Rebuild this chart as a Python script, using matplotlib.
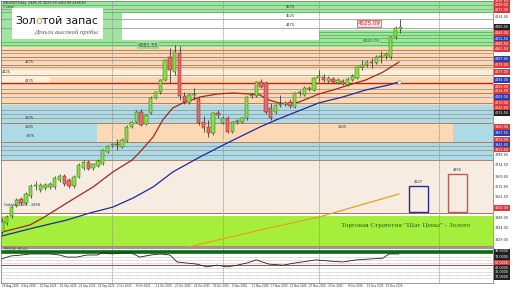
import numpy as np
import matplotlib.pyplot as plt
from matplotlib.patches import Rectangle

# XAUUSD daily candles
opens = [3372, 3421, 3459, 3513, 3551, 3529, 3567, 3621, 3599, 3610,
         3616, 3616, 3653, 3675, 3653, 3621, 3670, 3718, 3751, 3718,
         3729, 3740, 3805, 3843, 3848, 3832, 3864, 3940, 3967, 4021,
         3956, 4016, 4097, 4129, 4194, 4318, 4237, 4340, 4107, 4075,
         4113, 4091, 3967, 3940, 3907, 4016, 3961, 3988, 3913, 3967,
         3967, 3988, 4107, 4107, 4183, 4178, 4043, 4021, 4059, 4064,
         4075, 4048, 4124, 4113, 4145, 4140, 4205, 4210, 4188, 4199,
         4178, 4188, 4167, 4194, 4205, 4264, 4275, 4291, 4286, 4318,
         4324, 4318, 4426, 4470]
closes = [3426, 3453, 3507, 3545, 3529, 3578, 3621, 3626, 3626, 3626,
          3632, 3664, 3675, 3632, 3621, 3670, 3735, 3751, 3713, 3740,
          3756, 3816, 3837, 3848, 3843, 3870, 3940, 3967, 4021, 3951,
          4005, 4097, 4129, 4194, 4302, 4248, 4345, 4107, 4075, 4113,
          4118, 3961, 3934, 3907, 4016, 4005, 3988, 3913, 3967, 3972,
          3988, 4102, 4113, 4183, 4156, 4021, 3988, 4059, 4064, 4070,
          4053, 4124, 4129, 4151, 4151, 4205, 4215, 4194, 4205, 4183,
          4194, 4172, 4199, 4215, 4264, 4275, 4291, 4286, 4318, 4324,
          4334, 4426, 4475, 4480]
highs = [3448, 3464, 3518, 3556, 3562, 3589, 3632, 3648, 3637, 3637,
         3645, 3675, 3686, 3686, 3664, 3680, 3745, 3762, 3762, 3748,
         3765, 3822, 3845, 3856, 3875, 3878, 3948, 3975, 4030, 4035,
         4012, 4105, 4135, 4200, 4310, 4367, 4381.55, 4375, 4130, 4125,
         4151, 4102, 3999, 3978, 4021, 4032, 4000, 4000, 3975, 3985,
         3995, 4110, 4125, 4190, 4200, 4190, 4070, 4064, 4113, 4080,
         4090, 4130, 4140, 4160, 4160, 4210, 4248, 4225, 4215, 4212,
         4205, 4200, 4210, 4225, 4270, 4302, 4300, 4313, 4330, 4351,
         4345, 4434, 4485, 4525.09]
lows = [3361, 3410, 3448, 3505, 3520, 3520, 3556, 3599, 3590, 3600,
        3605, 3605, 3645, 3620, 3610, 3612, 3662, 3710, 3705, 3710,
        3722, 3735, 3798, 3830, 3816, 3825, 3858, 3932, 3960, 3945,
        3948, 4010, 4090, 4120, 4188, 4178, 4221, 4086, 4064, 4065,
        4086, 3950, 3913, 3886, 3895, 3988, 3955, 3905, 3905, 3955,
        3960, 3980, 4095, 4100, 4150, 4010, 3980, 4010, 4048, 4055,
        4045, 4040, 4110, 4105, 4135, 4132, 4183, 4185, 4180, 4175,
        4170, 4165, 4160, 4188, 4198, 4248, 4265, 4259, 4280, 4286,
        4305, 4310, 4415, 4448]

date_labels = ["28 Aug 2025", "4 Sep 2025", "10 Sep 2025", "16 Sep 2025", "22 Sep 2025",
               "26 Sep 2025", "2 Oct 2025", "8 Oct 2025", "14 Oct 2025", "20 Oct 2025",
               "24 Oct 2025", "30 Oct 2025", "5 Nov 2025", "11 Nov 2025", "17 Nov 2025",
               "21 Nov 2025", "27 Nov 2025", "3 Dec 2025", "9 Dec 2025", "15 Dec 2025",
               "19 Dec 2025"]

# moving averages (sampled at some bars)
red_ma_x = [0, 5.8, 8.5, 13.5, 19, 23.1, 27.1, 28.75, 31.5, 33.5, 35.6, 37.7, 41.25, 44.8,
            48.1, 51.7, 53.75, 55.6, 57.7, 59.8, 61.9, 64, 66, 69, 72.3, 75.8, 79.4, 82.7]
red_ma = [3372, 3410, 3448, 3529, 3616, 3697, 3761, 3805, 3886, 3978, 4043, 4070, 4102, 4118,
          4124, 4118, 4113, 4086, 4070, 4064, 4075, 4097, 4118, 4140, 4167, 4194, 4237, 4291]
blue_ma_x = [0, 6.5, 13.5, 18.3, 23.1, 27.3, 31.5, 35.6, 41.25, 46.9, 53.75, 57.1, 61.25,
             66, 71, 75.8, 80.6, 82.7]
blue_ma = [3351, 3394, 3437, 3475, 3507, 3556, 3616, 3697, 3778, 3853, 3940, 3978, 4021,
           4070, 4102, 4140, 4167, 4183]
orange_x = [37.5, 52.9, 66, 82.7]
orange_ma = [3283, 3378, 3453, 3578]

# oscillator in the lower window
osc_x = [0, 1.7, 4, 6, 8, 10, 12, 13.5, 15.6, 17.7, 19.8, 21, 23, 25, 27, 28.7, 31, 33, 35,
         36.5, 38.5, 40.6, 42.7, 44.8, 46.9, 49, 51, 53, 55.6, 58.5, 61, 65.4, 68, 71, 73.8,
         79.4, 80.6, 82.7]
osc_v = [69, 77, 80, 83, 83, 83, 80, 74, 74, 80, 80, 86, 83, 86, 86, 74, 80, 83, 80,
         60, 57, 54, 46, 51, 46, 51, 57, 66, 54, 51, 57, 66, 63, 60, 66,
         71, 83, 83]

# horizontal levels with their captions
level_vals = [4575, 4525, 4475, 4275, 4225, 4175, 3975, 3925, 3875, 3925]
level_text = ["4575", "4525", "4475", "4275", "4225", "4175", "3975", "3925", "3875", "3925"]
level_at = [60, 60, 60, 5.8, 1, 5.8, 5.8, 5.8, 5.8, 71]

right_prices = [4615.5, 4599, 4572, 4534.4, 4480.4, 4448, 4415.5, 4388.5, 4361.5, 4307.4,
                4275, 4237, 4194, 4156, 4134.5, 4102, 4070, 4042.6, 4015.5, 3940, 3907.5,
                3870, 3842.6, 3815.6, 3788.6, 3734.5, 3669.6, 3615.6, 3561.5, 3502, 3448,
                3394, 3329]
right_kind = ["r", "r", "r", "w", "k", "r", "b", "r", "r", "b",
              "r", "r", "b", "r", "r", "b", "r", "r", "k", "r", "b",
              "r", "b", "r", "w", "w", "w", "w", "w", "r", "w",
              "w", "w"]

box_labels = ["4127", "4355"]

W, H = 516, 289
fig = plt.figure(figsize=(W / 100, H / 100), dpi=100)
fig.patch.set_facecolor("white")


def box(x0, y0, x1, y1):
    return [x0 / W, 1 - y1 / H, (x1 - x0) / W, (y1 - y0) / H]


ax = fig.add_axes(box(1, 1, 493, 247))
axo = fig.add_axes(box(1, 248, 493, 283))
x0, x1 = -0.2, 102.3
ax.set_xlim(x0, x1)
ax.set_ylim(3291.3, 4620.9)
axo.set_xlim(x0, x1)
axo.set_ylim(0, 100)

# background zones
zones = [
    (4372, 4621, "#9fe49f", 0, 1),
    (4464, 4556, "white", 0.246, 1),
    (4410, 4464, "white", 0.246, 0.647),
    (4059, 4372, "#fcd8b4", 0, 1),
    (4210, 4248, "#fdf0d6", 0, 1),
    (4178, 4248, "#fdf0d6", 0, 0.1),
    (3961.5, 4059, "#acdbe6", 0, 1),
    (3859, 3961.5, "#fcd8b4", 0, 1),
    (3859, 3961.5, "#acdbe6", 0, 0.195),
    (3859, 3961.5, "#acdbe6", 0.919, 1),
    (3761.5, 3859, "#acdbe6", 0, 1),
    (3470, 3761.5, "#f7ece1", 0, 1),
    (3296, 3459, "#a6ee3c", 0, 1),
]
for lo, hi, c, a, b in zones:
    ax.axhspan(lo, hi, xmin=a, xmax=b, color=c, lw=0, zorder=0)

green_lines = [4600, 4561, 4399, 4383]
for v in green_lines:
    ax.axhline(v, color="#58b858", lw=0.6, zorder=1)
ax.axhline(4453, xmin=0.647, color="#58b858", lw=0.6, zorder=1)
ax.axhline(4437, xmin=0.647, color="#58b858", lw=0.6, zorder=1)
ax.axhline(4421, xmin=0.647, color="#58b858", lw=0.6, zorder=1)
gray_lines = [4575, 4525, 4475, 4340, 4302, 4264, 4221, 4145, 4102, 4032, 4010,
              3988, 3837, 3816, 3788, 3475]
for v in gray_lines:
    ax.axhline(v, color="#9a9a9a", lw=0.6, zorder=1)
brown_lines = [4356, 4318, 4275, 4124, 4070, 3961.5, 3859, 3761.5, 3475, 3296]
for v in brown_lines:
    ax.axhline(v, color="#b0704a", lw=0.6, zorder=1)
ax.axhline(4175, color="#b02818", lw=1.0, zorder=1)

# month separators
for v in [23, 46, 66, 91]:
    ax.axvline(v, color="#8c8c8c", lw=0.5, ls=(0, (2, 1)), zorder=1)
    axo.axvline(v, color="#8c8c8c", lw=0.5, ls=(0, (2, 1)), zorder=1)

# candles
idx = np.arange(len(opens))
for i in idx:
    o, c, h, l = opens[i], closes[i], highs[i], lows[i]
    up = c >= o
    ax.vlines(i, l, h, color="#303030", lw=0.55, zorder=3)
    lo_b, hi_b = min(o, c), max(o, c)
    if hi_b - lo_b < 3:
        hi_b = lo_b + 3
    ax.add_patch(Rectangle((i - 0.36, lo_b), 0.72, hi_b - lo_b,
                           facecolor="#86e040" if up else "#e86a6a",
                           edgecolor="#2f6e1a" if up else "#8a2020",
                           lw=0.35, zorder=4))

ax.plot(orange_x, orange_ma, color="#e8a020", lw=0.9, zorder=2)
ax.plot(blue_ma_x, blue_ma, color="#1e2aa0", lw=0.9, zorder=2)
ax.plot(red_ma_x, red_ma, color="#a0281e", lw=0.9, zorder=2)
ax.plot(blue_ma_x[-1], blue_ma[-1], "o", mfc="white", mec="#909090", ms=2.5, mew=0.5, zorder=5)

for v, t, at in zip(level_vals, level_text, level_at):
    ax.text(at, v + 3, t, fontsize=2.6, ha="center", va="bottom", color="#303030", zorder=6)

# price tags
ax.text(30.5, 4381.55, "4381.55", fontsize=3.6, ha="center", va="center", color="#205020",
        bbox=dict(boxstyle="square,pad=0.15", fc="#98d898", ec="none"), zorder=6)
ax.text(76.5, 4500, "4525.09", fontsize=4, ha="center", va="center", color="#c03030",
        bbox=dict(boxstyle="square,pad=0.15", fc="#f6e0e0", ec="#c05050", lw=0.5), zorder=6)
ax.text(77, 4405, "4432.79", fontsize=3, ha="center", va="center", color="#2a7a2a",
        bbox=dict(boxstyle="square,pad=0.1", fc="#90dc90", ec="none"), zorder=6)
ax.text(0.5, 3505, "Golden 2825 - 3498", fontsize=2.6, ha="left", va="bottom", color="#303030", zorder=6)

# target boxes
ax.add_patch(Rectangle((84.8, 3480), 3.95, 141, fill=False, ec="#2a2a9a", lw=1.0, zorder=5))
ax.add_patch(Rectangle((92.9, 3480), 3.95, 206, fill=False, ec="#c05a50", lw=1.0, zorder=5))
ax.text(86.8, 3630, box_labels[0], fontsize=2.6, ha="center", va="bottom", color="#303030")
ax.text(94.9, 3695, box_labels[1], fontsize=2.6, ha="center", va="bottom", color="#303030")

ax.text(84.1, 3410, "Торговая Стратегия \"Шаг Цены\" - Золото", fontsize=5.2,
        family="Liberation Serif", ha="center", va="center", color="#1d6b1d", zorder=6)

# right scale tags
tag_col = {"r": ("#d83a3a", "white"), "b": ("#2a3ab0", "white"),
           "k": ("#202020", "white"), "w": ("white", "#303030")}
for v, k in zip(right_prices, right_kind):
    fc, tc = tag_col[k]
    ax.text(1.004, v, "%.2f" % v, transform=ax.get_yaxis_transform(), fontsize=2.4,
            ha="left", va="center", color=tc, clip_on=False,
            bbox=dict(boxstyle="square,pad=0.2", fc=fc, ec="none"))

# oscillator window
axo.set_facecolor("white")
for v in [74, 66, 57, 43, 31, 23, 14]:
    axo.axhline(v, color="#909090", lw=0.4, ls=(0, (1, 1)))
axo.axhline(51, color="#c04040", lw=0.7)
axo.axhline(90, color="#0a6a10", lw=2.6)
axo.plot(osc_x, osc_v, color="#202020", lw=0.6)
axo.text(0.5, 97, "RSI(14) 82.61", fontsize=2.4, ha="left", va="center", color="#303030")
for v, k in [(90, "k"), (74, "k"), (57, "r"), (43, "k"), (31, "k"), (17, "k")]:
    fc, tc = tag_col[k]
    axo.text(1.004, v, "%.4f" % v, transform=axo.get_yaxis_transform(), fontsize=2.4,
             ha="left", va="center", color=tc, clip_on=False,
             bbox=dict(boxstyle="square,pad=0.2", fc=fc, ec="none"))

for a in (ax, axo):
    a.set_xticks([])
    a.set_yticks([])
    for s in a.spines.values():
        s.set_color("#707070")
        s.set_linewidth(0.5)

for j, t in enumerate(date_labels):
    fig.text((2 + 4.8 * 4 * j) / W, 1 - 286 / H, t, fontsize=1.9, ha="left", va="center",
             color="#303030")

# header
fig.text(3 / W, 1 - 3 / H, "XAUUSD,Daily  4486.21 4525.09 4452.68 4498.61", fontsize=2.3,
         ha="left", va="center", color="#202020")
fig.text(3 / W, 1 - 7 / H, "1 zone", fontsize=2.3, ha="left", va="center", color="#202020")

# logo
fig.patches.append(Rectangle((12 / W, 1 - 39 / H), 91 / W, 31 / H, transform=fig.transFigure,
                             facecolor="white", edgecolor="none", zorder=10))
t1 = fig.text(15 / W, 1 - 21 / H, "Зол", fontsize=7.8, ha="left", va="center", color="#111111", zorder=11)
fig.canvas.draw()
r = fig.canvas.get_renderer()
bb = t1.get_window_extent(r)
t2 = fig.text(bb.x1 / W, 1 - 21 / H, "о", fontsize=7.8, ha="left", va="center", color="#d4a020", zorder=11)
bb = t2.get_window_extent(r)
fig.text(bb.x1 / W, 1 - 21 / H, "той запас", fontsize=7.8, ha="left", va="center", color="#111111", zorder=11)
fig.text(98 / W, 1 - 32 / H, "Деньги высокой пробы", fontsize=4.8, family="Liberation Serif",
         style="italic", ha="right", va="center", color="#555555", zorder=11)

fig.savefig("out.png", dpi=100)
